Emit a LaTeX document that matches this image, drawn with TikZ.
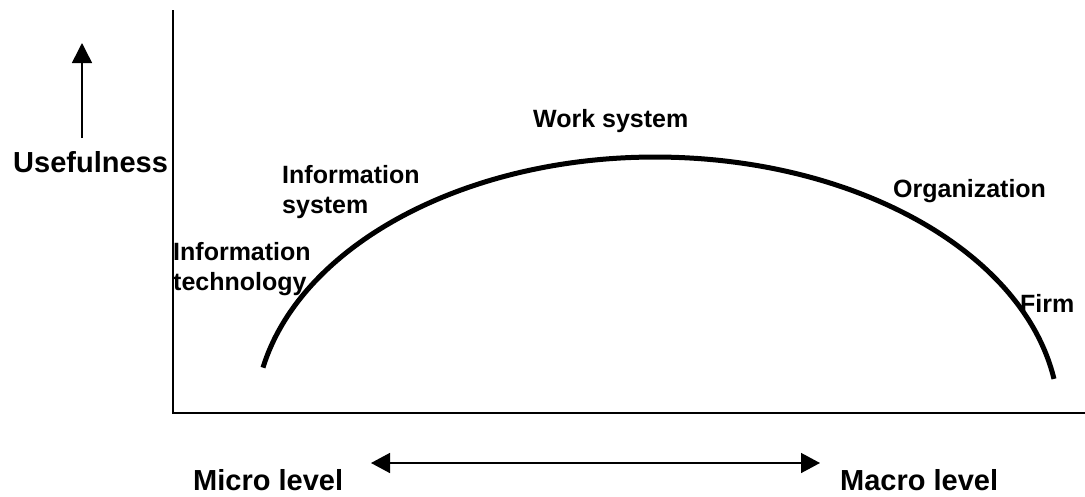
\documentclass[tikz,border=0pt]{standalone}
\usepackage{fontspec}
\setmainfont{Liberation Sans}
\usetikzlibrary{arrows.meta}
\tikzset{
  big/.style={font=\bfseries\fontsize{29}{34}\selectfont, inner sep=0pt, anchor=base west},
  lbl/.style={font=\bfseries\fontsize{25}{30}\selectfont, inner sep=0pt, anchor=base west, align=left},
  axis/.style={line width=1.8pt},
  arr/.style={line width=1.5pt, -{Triangle[length=20pt,width=20pt]}},
  darr/.style={line width=1.5pt, {Triangle[length=19pt,width=20pt]}-{Triangle[length=19pt,width=20pt]}},
  curve/.style={line width=5pt}
}
\begin{document}
\begin{tikzpicture}[x=1pt,y=-1pt]
\useasboundingbox (0,0) rectangle (1085,496);
% axes
\coordinate (ytop) at (173,10);
\coordinate (orig) at (173,413);
\coordinate (xend) at (1085,413);
\draw[axis] (ytop) -- (orig) -- (xend);
% usefulness arrow
\coordinate (ua) at (82,138);
\coordinate (ub) at (82,43);
\draw[arr] (ua) -- (ub);
\node[big] (useful) at (13,172) {Usefulness};
% curve
\coordinate (cstart) at (263,367.6);
\draw[curve] (cstart) arc[start angle=191.5, end angle=270, x radius=400, y radius=263]
  arc[start angle=270, end angle=351, x radius=404, y radius=263];
% labels
\node[lbl] (ws) at (533,127) {Work system};
\node[lbl] (is) at (282,213) {Information\\system};
\node[lbl] (it) at (173,290) {Information\\technology};
\node[lbl] (org) at (893,197) {Organization};
\node[lbl] (firm) at (1020,312) {Firm};
% bottom
\node[big] (micro) at (193,490) {Micro level};
\node[big] (macro) at (840,490) {Macro level};
\coordinate (la) at (371,463);
\coordinate (lb) at (820,463);
\draw[darr] (la) -- (lb);
\end{tikzpicture}
\end{document}
